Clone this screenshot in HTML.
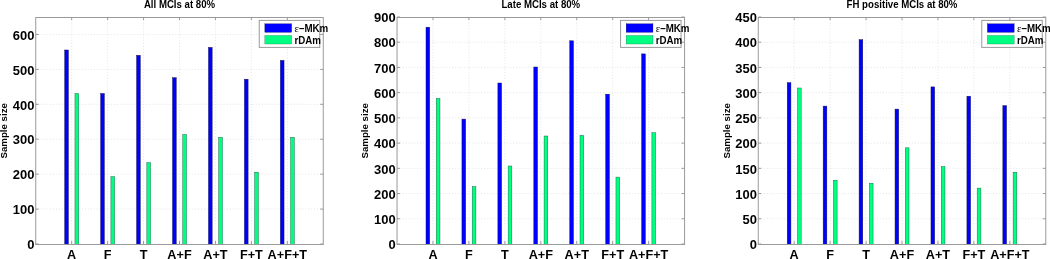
<!DOCTYPE html>
<html><head><meta charset="utf-8"><title>Sample size</title>
<style>
html,body{margin:0;padding:0;background:#fff;}
body{width:1050px;height:259px;overflow:hidden;}
svg{display:block;will-change:transform;}
text{font-family:"Liberation Sans",sans-serif;font-weight:bold;fill:#000;}
.gr{stroke:#dadada;stroke-width:0.8;stroke-dasharray:0.9 2;fill:none;}
.ax{fill:none;stroke:#9a9a9a;stroke-width:1;}
.tk{stroke:#9a9a9a;stroke-width:1;}
.bb{fill:#0000ff;stroke:#10104a;stroke-width:0.45;}
.bg{fill:#00ff80;stroke:#106040;stroke-width:0.45;}
.pb{fill:#0000ff;stroke:#10104a;stroke-width:0.3;}
.pg{fill:#00ff80;stroke:#106040;stroke-width:0.3;}
.lg{fill:#fff;stroke:#9a9a9a;stroke-width:1;}
.yl{font-size:13.5px;text-anchor:end;}
.xl{font-size:13.0px;text-anchor:middle;}
.tt{font-size:9.7px;text-anchor:middle;}
.lt{font-size:10.1px;}
.ti{font-size:10.0px;}
.eps{font-family:"Liberation Serif",serif;font-weight:normal;font-size:11.110000000000001px;}
</style></head>
<body>
<svg width="1050" height="259" viewBox="0 0 1050 259">
<line x1="35.74" y1="209.08" x2="323.26" y2="209.08" class="gr"/>
<line x1="35.74" y1="174.15" x2="323.26" y2="174.15" class="gr"/>
<line x1="35.74" y1="139.23" x2="323.26" y2="139.23" class="gr"/>
<line x1="35.74" y1="104.31" x2="323.26" y2="104.31" class="gr"/>
<line x1="35.74" y1="69.38" x2="323.26" y2="69.38" class="gr"/>
<line x1="35.74" y1="34.46" x2="323.26" y2="34.46" class="gr"/>
<line x1="71.68" y1="17" x2="71.68" y2="244" class="gr"/>
<line x1="107.62" y1="17" x2="107.62" y2="244" class="gr"/>
<line x1="143.56" y1="17" x2="143.56" y2="244" class="gr"/>
<line x1="179.5" y1="17" x2="179.5" y2="244" class="gr"/>
<line x1="215.44" y1="17" x2="215.44" y2="244" class="gr"/>
<line x1="251.38" y1="17" x2="251.38" y2="244" class="gr"/>
<line x1="287.32" y1="17" x2="287.32" y2="244" class="gr"/>
<rect x="64.7" y="50" width="3.7" height="194.5" class="bb"/>
<rect x="74.96" y="93.6" width="3.7" height="150.9" class="bg"/>
<rect x="100.64" y="93.5" width="3.7" height="151" class="bb"/>
<rect x="110.9" y="176.6" width="3.7" height="67.9" class="bg"/>
<rect x="136.58" y="55.3" width="3.7" height="189.2" class="bb"/>
<rect x="146.84" y="162.7" width="3.7" height="81.8" class="bg"/>
<rect x="172.52" y="77.7" width="3.7" height="166.8" class="bb"/>
<rect x="182.78" y="134.5" width="3.7" height="110" class="bg"/>
<rect x="208.46" y="47.4" width="3.7" height="197.1" class="bb"/>
<rect x="218.72" y="137.3" width="3.7" height="107.2" class="bg"/>
<rect x="244.4" y="79.2" width="3.7" height="165.3" class="bb"/>
<rect x="254.66" y="172.2" width="3.7" height="72.3" class="bg"/>
<rect x="280.34" y="60.4" width="3.7" height="184.1" class="bb"/>
<rect x="290.6" y="137.3" width="3.7" height="107.2" class="bg"/>
<rect x="35.74" y="17.5" width="287.52" height="227" class="ax"/>
<line x1="35.74" y1="244" x2="38.74" y2="244" class="tk"/>
<line x1="323.26" y1="244" x2="320.26" y2="244" class="tk"/>
<text transform="translate(34.34,249.2) scale(0.96,1)" class="yl">0</text>
<line x1="35.74" y1="209.08" x2="38.74" y2="209.08" class="tk"/>
<line x1="323.26" y1="209.08" x2="320.26" y2="209.08" class="tk"/>
<text transform="translate(34.34,214.28) scale(0.96,1)" class="yl">100</text>
<line x1="35.74" y1="174.15" x2="38.74" y2="174.15" class="tk"/>
<line x1="323.26" y1="174.15" x2="320.26" y2="174.15" class="tk"/>
<text transform="translate(34.34,179.35) scale(0.96,1)" class="yl">200</text>
<line x1="35.74" y1="139.23" x2="38.74" y2="139.23" class="tk"/>
<line x1="323.26" y1="139.23" x2="320.26" y2="139.23" class="tk"/>
<text transform="translate(34.34,144.43) scale(0.96,1)" class="yl">300</text>
<line x1="35.74" y1="104.31" x2="38.74" y2="104.31" class="tk"/>
<line x1="323.26" y1="104.31" x2="320.26" y2="104.31" class="tk"/>
<text transform="translate(34.34,109.51) scale(0.96,1)" class="yl">400</text>
<line x1="35.74" y1="69.38" x2="38.74" y2="69.38" class="tk"/>
<line x1="323.26" y1="69.38" x2="320.26" y2="69.38" class="tk"/>
<text transform="translate(34.34,74.58) scale(0.96,1)" class="yl">500</text>
<line x1="35.74" y1="34.46" x2="38.74" y2="34.46" class="tk"/>
<line x1="323.26" y1="34.46" x2="320.26" y2="34.46" class="tk"/>
<text transform="translate(34.34,39.66) scale(0.96,1)" class="yl">600</text>
<line x1="71.68" y1="244" x2="71.68" y2="241" class="tk"/>
<line x1="71.68" y1="17" x2="71.68" y2="20" class="tk"/>
<text transform="translate(71.68,258.7) scale(0.975,1)" class="xl">A</text>
<line x1="107.62" y1="244" x2="107.62" y2="241" class="tk"/>
<line x1="107.62" y1="17" x2="107.62" y2="20" class="tk"/>
<text transform="translate(107.62,258.7) scale(0.975,1)" class="xl">F</text>
<line x1="143.56" y1="244" x2="143.56" y2="241" class="tk"/>
<line x1="143.56" y1="17" x2="143.56" y2="20" class="tk"/>
<text transform="translate(143.56,258.7) scale(0.975,1)" class="xl">T</text>
<line x1="179.5" y1="244" x2="179.5" y2="241" class="tk"/>
<line x1="179.5" y1="17" x2="179.5" y2="20" class="tk"/>
<text transform="translate(179.5,258.7) scale(0.975,1)" class="xl">A+F</text>
<line x1="215.44" y1="244" x2="215.44" y2="241" class="tk"/>
<line x1="215.44" y1="17" x2="215.44" y2="20" class="tk"/>
<text transform="translate(215.44,258.7) scale(0.975,1)" class="xl">A+T</text>
<line x1="251.38" y1="244" x2="251.38" y2="241" class="tk"/>
<line x1="251.38" y1="17" x2="251.38" y2="20" class="tk"/>
<text transform="translate(251.38,258.7) scale(0.975,1)" class="xl">F+T</text>
<line x1="287.32" y1="244" x2="287.32" y2="241" class="tk"/>
<line x1="287.32" y1="17" x2="287.32" y2="20" class="tk"/>
<text transform="translate(287.32,258.7) scale(0.975,1)" class="xl">A+F+T</text>
<text transform="translate(179.5,7.6) scale(0.965,1)" class="tt ti">All MCIs at 80%</text>
<text transform="translate(7.04,130.8) rotate(-90)" x="0" y="0" class="tt">Sample size</text>
<rect x="259.26" y="20.4" width="60.5" height="27" class="lg"/>
<rect x="264.86" y="23.8" width="26.8" height="8.5" class="pb"/>
<rect x="264.86" y="35.5" width="26.8" height="8.5" class="pg"/>
<text transform="translate(294.46,31.9) scale(0.965,1)" class="lt"><tspan class="eps">&#949;</tspan>&#8211;MKm</text>
<text transform="translate(294.46,43.6) scale(0.965,1)" class="lt">rDAm</text>
<line x1="397.04" y1="218.78" x2="684.56" y2="218.78" class="gr"/>
<line x1="397.04" y1="193.56" x2="684.56" y2="193.56" class="gr"/>
<line x1="397.04" y1="168.33" x2="684.56" y2="168.33" class="gr"/>
<line x1="397.04" y1="143.11" x2="684.56" y2="143.11" class="gr"/>
<line x1="397.04" y1="117.89" x2="684.56" y2="117.89" class="gr"/>
<line x1="397.04" y1="92.67" x2="684.56" y2="92.67" class="gr"/>
<line x1="397.04" y1="67.44" x2="684.56" y2="67.44" class="gr"/>
<line x1="397.04" y1="42.22" x2="684.56" y2="42.22" class="gr"/>
<line x1="432.98" y1="17" x2="432.98" y2="244" class="gr"/>
<line x1="468.92" y1="17" x2="468.92" y2="244" class="gr"/>
<line x1="504.86" y1="17" x2="504.86" y2="244" class="gr"/>
<line x1="540.8" y1="17" x2="540.8" y2="244" class="gr"/>
<line x1="576.74" y1="17" x2="576.74" y2="244" class="gr"/>
<line x1="612.68" y1="17" x2="612.68" y2="244" class="gr"/>
<line x1="648.62" y1="17" x2="648.62" y2="244" class="gr"/>
<rect x="426" y="27.2" width="3.7" height="217.3" class="bb"/>
<rect x="436.26" y="98.5" width="3.7" height="146" class="bg"/>
<rect x="461.94" y="119.1" width="3.7" height="125.4" class="bb"/>
<rect x="472.2" y="186.7" width="3.7" height="57.8" class="bg"/>
<rect x="497.88" y="83" width="3.7" height="161.5" class="bb"/>
<rect x="508.14" y="166" width="3.7" height="78.5" class="bg"/>
<rect x="533.82" y="67" width="3.7" height="177.5" class="bb"/>
<rect x="544.08" y="136" width="3.7" height="108.5" class="bg"/>
<rect x="569.76" y="40.8" width="3.7" height="203.7" class="bb"/>
<rect x="580.02" y="135.4" width="3.7" height="109.1" class="bg"/>
<rect x="605.7" y="94.2" width="3.7" height="150.3" class="bb"/>
<rect x="615.96" y="177.1" width="3.7" height="67.4" class="bg"/>
<rect x="641.64" y="53.9" width="3.7" height="190.6" class="bb"/>
<rect x="651.9" y="132.7" width="3.7" height="111.8" class="bg"/>
<rect x="397.04" y="17.5" width="287.52" height="227" class="ax"/>
<line x1="397.04" y1="244" x2="400.04" y2="244" class="tk"/>
<line x1="684.56" y1="244" x2="681.56" y2="244" class="tk"/>
<text transform="translate(395.64,249.2) scale(0.96,1)" class="yl">0</text>
<line x1="397.04" y1="218.78" x2="400.04" y2="218.78" class="tk"/>
<line x1="684.56" y1="218.78" x2="681.56" y2="218.78" class="tk"/>
<text transform="translate(395.64,223.98) scale(0.96,1)" class="yl">100</text>
<line x1="397.04" y1="193.56" x2="400.04" y2="193.56" class="tk"/>
<line x1="684.56" y1="193.56" x2="681.56" y2="193.56" class="tk"/>
<text transform="translate(395.64,198.76) scale(0.96,1)" class="yl">200</text>
<line x1="397.04" y1="168.33" x2="400.04" y2="168.33" class="tk"/>
<line x1="684.56" y1="168.33" x2="681.56" y2="168.33" class="tk"/>
<text transform="translate(395.64,173.53) scale(0.96,1)" class="yl">300</text>
<line x1="397.04" y1="143.11" x2="400.04" y2="143.11" class="tk"/>
<line x1="684.56" y1="143.11" x2="681.56" y2="143.11" class="tk"/>
<text transform="translate(395.64,148.31) scale(0.96,1)" class="yl">400</text>
<line x1="397.04" y1="117.89" x2="400.04" y2="117.89" class="tk"/>
<line x1="684.56" y1="117.89" x2="681.56" y2="117.89" class="tk"/>
<text transform="translate(395.64,123.09) scale(0.96,1)" class="yl">500</text>
<line x1="397.04" y1="92.67" x2="400.04" y2="92.67" class="tk"/>
<line x1="684.56" y1="92.67" x2="681.56" y2="92.67" class="tk"/>
<text transform="translate(395.64,97.87) scale(0.96,1)" class="yl">600</text>
<line x1="397.04" y1="67.44" x2="400.04" y2="67.44" class="tk"/>
<line x1="684.56" y1="67.44" x2="681.56" y2="67.44" class="tk"/>
<text transform="translate(395.64,72.64) scale(0.96,1)" class="yl">700</text>
<line x1="397.04" y1="42.22" x2="400.04" y2="42.22" class="tk"/>
<line x1="684.56" y1="42.22" x2="681.56" y2="42.22" class="tk"/>
<text transform="translate(395.64,47.42) scale(0.96,1)" class="yl">800</text>
<line x1="397.04" y1="17" x2="400.04" y2="17" class="tk"/>
<line x1="684.56" y1="17" x2="681.56" y2="17" class="tk"/>
<text transform="translate(395.64,22.2) scale(0.96,1)" class="yl">900</text>
<line x1="432.98" y1="244" x2="432.98" y2="241" class="tk"/>
<line x1="432.98" y1="17" x2="432.98" y2="20" class="tk"/>
<text transform="translate(432.98,258.7) scale(0.975,1)" class="xl">A</text>
<line x1="468.92" y1="244" x2="468.92" y2="241" class="tk"/>
<line x1="468.92" y1="17" x2="468.92" y2="20" class="tk"/>
<text transform="translate(468.92,258.7) scale(0.975,1)" class="xl">F</text>
<line x1="504.86" y1="244" x2="504.86" y2="241" class="tk"/>
<line x1="504.86" y1="17" x2="504.86" y2="20" class="tk"/>
<text transform="translate(504.86,258.7) scale(0.975,1)" class="xl">T</text>
<line x1="540.8" y1="244" x2="540.8" y2="241" class="tk"/>
<line x1="540.8" y1="17" x2="540.8" y2="20" class="tk"/>
<text transform="translate(540.8,258.7) scale(0.975,1)" class="xl">A+F</text>
<line x1="576.74" y1="244" x2="576.74" y2="241" class="tk"/>
<line x1="576.74" y1="17" x2="576.74" y2="20" class="tk"/>
<text transform="translate(576.74,258.7) scale(0.975,1)" class="xl">A+T</text>
<line x1="612.68" y1="244" x2="612.68" y2="241" class="tk"/>
<line x1="612.68" y1="17" x2="612.68" y2="20" class="tk"/>
<text transform="translate(612.68,258.7) scale(0.975,1)" class="xl">F+T</text>
<line x1="648.62" y1="244" x2="648.62" y2="241" class="tk"/>
<line x1="648.62" y1="17" x2="648.62" y2="20" class="tk"/>
<text transform="translate(648.62,258.7) scale(0.975,1)" class="xl">A+F+T</text>
<text transform="translate(540.8,7.6) scale(0.965,1)" class="tt ti">Late MCIs at 80%</text>
<text transform="translate(368.34,130.8) rotate(-90)" x="0" y="0" class="tt">Sample size</text>
<rect x="620.56" y="20.4" width="60.5" height="27" class="lg"/>
<rect x="626.16" y="23.8" width="26.8" height="8.5" class="pb"/>
<rect x="626.16" y="35.5" width="26.8" height="8.5" class="pg"/>
<text transform="translate(655.76,31.9) scale(0.965,1)" class="lt"><tspan class="eps">&#949;</tspan>&#8211;MKm</text>
<text transform="translate(655.76,43.6) scale(0.965,1)" class="lt">rDAm</text>
<line x1="758.25" y1="218.78" x2="1045.77" y2="218.78" class="gr"/>
<line x1="758.25" y1="193.56" x2="1045.77" y2="193.56" class="gr"/>
<line x1="758.25" y1="168.33" x2="1045.77" y2="168.33" class="gr"/>
<line x1="758.25" y1="143.11" x2="1045.77" y2="143.11" class="gr"/>
<line x1="758.25" y1="117.89" x2="1045.77" y2="117.89" class="gr"/>
<line x1="758.25" y1="92.67" x2="1045.77" y2="92.67" class="gr"/>
<line x1="758.25" y1="67.44" x2="1045.77" y2="67.44" class="gr"/>
<line x1="758.25" y1="42.22" x2="1045.77" y2="42.22" class="gr"/>
<line x1="794.19" y1="17" x2="794.19" y2="244" class="gr"/>
<line x1="830.13" y1="17" x2="830.13" y2="244" class="gr"/>
<line x1="866.07" y1="17" x2="866.07" y2="244" class="gr"/>
<line x1="902.01" y1="17" x2="902.01" y2="244" class="gr"/>
<line x1="937.95" y1="17" x2="937.95" y2="244" class="gr"/>
<line x1="973.89" y1="17" x2="973.89" y2="244" class="gr"/>
<line x1="1009.83" y1="17" x2="1009.83" y2="244" class="gr"/>
<rect x="787.21" y="82.7" width="3.7" height="161.8" class="bb"/>
<rect x="797.47" y="88" width="3.7" height="156.5" class="bg"/>
<rect x="823.15" y="106.1" width="3.7" height="138.4" class="bb"/>
<rect x="833.41" y="180.3" width="3.7" height="64.2" class="bg"/>
<rect x="859.09" y="39.7" width="3.7" height="204.8" class="bb"/>
<rect x="869.35" y="183.2" width="3.7" height="61.3" class="bg"/>
<rect x="895.03" y="109.1" width="3.7" height="135.4" class="bb"/>
<rect x="905.29" y="147.8" width="3.7" height="96.7" class="bg"/>
<rect x="930.97" y="86.9" width="3.7" height="157.6" class="bb"/>
<rect x="941.23" y="166.6" width="3.7" height="77.9" class="bg"/>
<rect x="966.91" y="96.2" width="3.7" height="148.3" class="bb"/>
<rect x="977.17" y="188.1" width="3.7" height="56.4" class="bg"/>
<rect x="1002.85" y="105.6" width="3.7" height="138.9" class="bb"/>
<rect x="1013.11" y="172.2" width="3.7" height="72.3" class="bg"/>
<rect x="758.25" y="17.5" width="287.52" height="227" class="ax"/>
<line x1="758.25" y1="244" x2="761.25" y2="244" class="tk"/>
<line x1="1045.77" y1="244" x2="1042.77" y2="244" class="tk"/>
<text transform="translate(756.85,249.2) scale(0.96,1)" class="yl">0</text>
<line x1="758.25" y1="218.78" x2="761.25" y2="218.78" class="tk"/>
<line x1="1045.77" y1="218.78" x2="1042.77" y2="218.78" class="tk"/>
<text transform="translate(756.85,223.98) scale(0.96,1)" class="yl">50</text>
<line x1="758.25" y1="193.56" x2="761.25" y2="193.56" class="tk"/>
<line x1="1045.77" y1="193.56" x2="1042.77" y2="193.56" class="tk"/>
<text transform="translate(756.85,198.76) scale(0.96,1)" class="yl">100</text>
<line x1="758.25" y1="168.33" x2="761.25" y2="168.33" class="tk"/>
<line x1="1045.77" y1="168.33" x2="1042.77" y2="168.33" class="tk"/>
<text transform="translate(756.85,173.53) scale(0.96,1)" class="yl">150</text>
<line x1="758.25" y1="143.11" x2="761.25" y2="143.11" class="tk"/>
<line x1="1045.77" y1="143.11" x2="1042.77" y2="143.11" class="tk"/>
<text transform="translate(756.85,148.31) scale(0.96,1)" class="yl">200</text>
<line x1="758.25" y1="117.89" x2="761.25" y2="117.89" class="tk"/>
<line x1="1045.77" y1="117.89" x2="1042.77" y2="117.89" class="tk"/>
<text transform="translate(756.85,123.09) scale(0.96,1)" class="yl">250</text>
<line x1="758.25" y1="92.67" x2="761.25" y2="92.67" class="tk"/>
<line x1="1045.77" y1="92.67" x2="1042.77" y2="92.67" class="tk"/>
<text transform="translate(756.85,97.87) scale(0.96,1)" class="yl">300</text>
<line x1="758.25" y1="67.44" x2="761.25" y2="67.44" class="tk"/>
<line x1="1045.77" y1="67.44" x2="1042.77" y2="67.44" class="tk"/>
<text transform="translate(756.85,72.64) scale(0.96,1)" class="yl">350</text>
<line x1="758.25" y1="42.22" x2="761.25" y2="42.22" class="tk"/>
<line x1="1045.77" y1="42.22" x2="1042.77" y2="42.22" class="tk"/>
<text transform="translate(756.85,47.42) scale(0.96,1)" class="yl">400</text>
<line x1="758.25" y1="17" x2="761.25" y2="17" class="tk"/>
<line x1="1045.77" y1="17" x2="1042.77" y2="17" class="tk"/>
<text transform="translate(756.85,22.2) scale(0.96,1)" class="yl">450</text>
<line x1="794.19" y1="244" x2="794.19" y2="241" class="tk"/>
<line x1="794.19" y1="17" x2="794.19" y2="20" class="tk"/>
<text transform="translate(794.19,258.7) scale(0.975,1)" class="xl">A</text>
<line x1="830.13" y1="244" x2="830.13" y2="241" class="tk"/>
<line x1="830.13" y1="17" x2="830.13" y2="20" class="tk"/>
<text transform="translate(830.13,258.7) scale(0.975,1)" class="xl">F</text>
<line x1="866.07" y1="244" x2="866.07" y2="241" class="tk"/>
<line x1="866.07" y1="17" x2="866.07" y2="20" class="tk"/>
<text transform="translate(866.07,258.7) scale(0.975,1)" class="xl">T</text>
<line x1="902.01" y1="244" x2="902.01" y2="241" class="tk"/>
<line x1="902.01" y1="17" x2="902.01" y2="20" class="tk"/>
<text transform="translate(902.01,258.7) scale(0.975,1)" class="xl">A+F</text>
<line x1="937.95" y1="244" x2="937.95" y2="241" class="tk"/>
<line x1="937.95" y1="17" x2="937.95" y2="20" class="tk"/>
<text transform="translate(937.95,258.7) scale(0.975,1)" class="xl">A+T</text>
<line x1="973.89" y1="244" x2="973.89" y2="241" class="tk"/>
<line x1="973.89" y1="17" x2="973.89" y2="20" class="tk"/>
<text transform="translate(973.89,258.7) scale(0.975,1)" class="xl">F+T</text>
<line x1="1009.83" y1="244" x2="1009.83" y2="241" class="tk"/>
<line x1="1009.83" y1="17" x2="1009.83" y2="20" class="tk"/>
<text transform="translate(1009.83,258.7) scale(0.975,1)" class="xl">A+F+T</text>
<text transform="translate(902.01,7.6) scale(0.965,1)" class="tt ti">FH positive MCIs at 80%</text>
<text transform="translate(729.55,130.8) rotate(-90)" x="0" y="0" class="tt">Sample size</text>
<rect x="981.77" y="20.4" width="60.5" height="27" class="lg"/>
<rect x="987.37" y="23.8" width="26.8" height="8.5" class="pb"/>
<rect x="987.37" y="35.5" width="26.8" height="8.5" class="pg"/>
<text transform="translate(1016.97,31.9) scale(0.965,1)" class="lt"><tspan class="eps">&#949;</tspan>&#8211;MKm</text>
<text transform="translate(1016.97,43.6) scale(0.965,1)" class="lt">rDAm</text>
</svg>
</body></html>
